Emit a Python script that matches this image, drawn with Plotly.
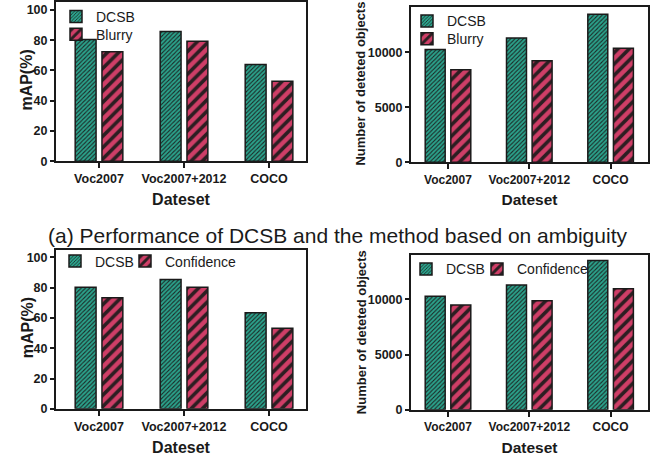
import plotly.graph_objects as go

# ---------------- data ----------------
categories = ["Voc2007", "Voc2007+2012", "COCO"]

map_dcsb_a = [80.5, 85.7, 63.9]
map_blurry = [72.3, 79.4, 52.8]
num_dcsb_a = [10270, 11310, 13490]
num_blurry = [8420, 9250, 10390]

map_dcsb_b = [80.3, 85.5, 63.5]
map_confidence = [73.4, 80.3, 53.3]
num_dcsb_b = [10270, 11310, 13520]
num_confidence = [9490, 9880, 10960]

caption = "(a) Performance of DCSB and the method based on ambiguity"
y_title_map = "mAP(%)"
y_title_num = "Number of deteted objects"
x_title = "Dateset"

# ---------------- styling ----------------
W, H = 667, 461
FONT = "Liberation Sans, Arial, sans-serif"
TEAL = "#2ba38c"
CRIMSON = "#cf3e67"
INK = "#1a1a1a"

def px_x(a, b):
    return [a / W, b / W]

def px_y(top, bottom):
    return [1 - bottom / H, 1 - top / H]

panels = {
    "1": dict(x=(56, 306), y=(1, 163), xr=[-0.506, 2.435], yr=[0, 105.3],
              yt=y_title_map, ytx=27, yty=80, yts=16),
    "2": dict(x=(411, 648), y=(6, 164), xr=[-0.455, 2.46], yr=[0, 14150],
              yt=y_title_num, ytx=361, yty=84, yts=13),
    "3": dict(x=(56, 306), y=(253, 415), xr=[-0.506, 2.435], yr=[0, 105.2],
              yt=y_title_map, ytx=27, yty=332, yts=16),
    "4": dict(x=(411, 648), y=(258, 416), xr=[-0.455, 2.46], yr=[0, 14060],
              yt=y_title_num, ytx=361, yty=337, yts=13),
}

def bar(name, vals, color, shape, size, solidity, idx, legend):
    return go.Bar(
        x=categories, y=vals, name=name,
        xaxis="x" + ("" if idx == "1" else idx),
        yaxis="y" + ("" if idx == "1" else idx),
        legend=legend,
        marker=dict(
            color=color,
            line=dict(color=INK, width=1.5),
            pattern=dict(shape=shape, size=size, solidity=solidity,
                         fgcolor=INK, fgopacity=0.9),
        ),
    )

DC = dict(shape="/", size=3, solidity=0.35)
RD = dict(shape="/", size=8, solidity=0.45)

fig = go.Figure()
fig.add_trace(bar("DCSB", map_dcsb_a, TEAL, idx="1", legend="legend", **DC))
fig.add_trace(bar("Blurry", map_blurry, CRIMSON, idx="1", legend="legend2", **RD))
fig.add_trace(bar("DCSB", num_dcsb_a, TEAL, idx="2", legend="legend3", **DC))
fig.add_trace(bar("Blurry", num_blurry, CRIMSON, idx="2", legend="legend4", **RD))
fig.add_trace(bar("DCSB", map_dcsb_b, TEAL, idx="3", legend="legend5", **DC))
fig.add_trace(bar("Confidence", map_confidence, CRIMSON, idx="3", legend="legend6", **RD))
fig.add_trace(bar("DCSB", num_dcsb_b, TEAL, idx="4", legend="legend7", **DC))
fig.add_trace(bar("Confidence", num_confidence, CRIMSON, idx="4", legend="legend8", **RD))

layout = dict(
    width=W, height=H,
    margin=dict(l=0, r=0, t=0, b=0),
    paper_bgcolor="white", plot_bgcolor="white",
    barmode="group", bargap=0.37, bargroupgap=0.22,
    font=dict(family=FONT, color=INK),
    showlegend=True,
)

def axis_common():
    return dict(showline=True, linewidth=2, linecolor=INK, mirror=True,
                ticks="outside", tickwidth=2, tickcolor=INK,
                showgrid=False, zeroline=False)

annotations = []
for idx, p in panels.items():
    left = idx in ("1", "3")
    tsz = 12.5 if left else 12
    ttl = 16 if left else 15.5
    xa = axis_common()
    xa.update(domain=px_x(*p["x"]), range=p["xr"], ticklen=5,
              anchor="y" + ("" if idx == "1" else idx),
              tickfont=dict(size=tsz, family=FONT, color=INK, weight="bold"),
              title=dict(text="<b>%s</b>" % x_title, font=dict(size=ttl, family=FONT, color=INK),
                         standoff=9))
    ya = axis_common()
    ya.update(domain=px_y(*p["y"]), range=p["yr"], ticklen=4,
              anchor="x" + ("" if idx == "1" else idx),
              tickfont=dict(size=12.5, family=FONT, color=INK, weight="bold"))
    if left:
        ya.update(dtick=20, tick0=0)
    else:
        ya.update(dtick=5000, tick0=0, tickformat="d")
    layout["xaxis" + ("" if idx == "1" else idx)] = xa
    layout["yaxis" + ("" if idx == "1" else idx)] = ya
    annotations.append(dict(
        text="<b>%s</b>" % p["yt"], textangle=-90,
        x=p["ytx"] / W, y=1 - p["yty"] / H, xref="paper", yref="paper",
        xanchor="center", yanchor="middle", showarrow=False,
        font=dict(size=p["yts"], family=FONT, color=INK),
    ))

def leg(icon_cx, text_cy):
    top = max(0.0, text_cy - 15.5)
    return dict(x=(icon_cx - 20) / W, y=1 - top / H, xanchor="left", yanchor="top",
                xref="paper", yref="paper", visible=True,
                bgcolor="rgba(0,0,0,0)", borderwidth=0,
                font=dict(size=14, family=FONT, color=INK))

layout["legend"] = leg(76, 15.5)
layout["legend2"] = leg(76, 33.5)
layout["legend3"] = leg(427, 20)
layout["legend4"] = leg(427, 38)
layout["legend5"] = leg(75, 264.3)
layout["legend6"] = leg(145, 264.3)
layout["legend7"] = leg(426, 272.3)
layout["legend8"] = leg(497, 272.3)

annotations.append(dict(
    text=caption, x=337 / W, y=1 - 239 / H, xref="paper", yref="paper",
    xanchor="center", yanchor="middle", showarrow=False,
    font=dict(size=21, family=FONT, color=INK),
))
layout["annotations"] = annotations

fig.update_layout(**layout)
fig.write_html("out.html")
